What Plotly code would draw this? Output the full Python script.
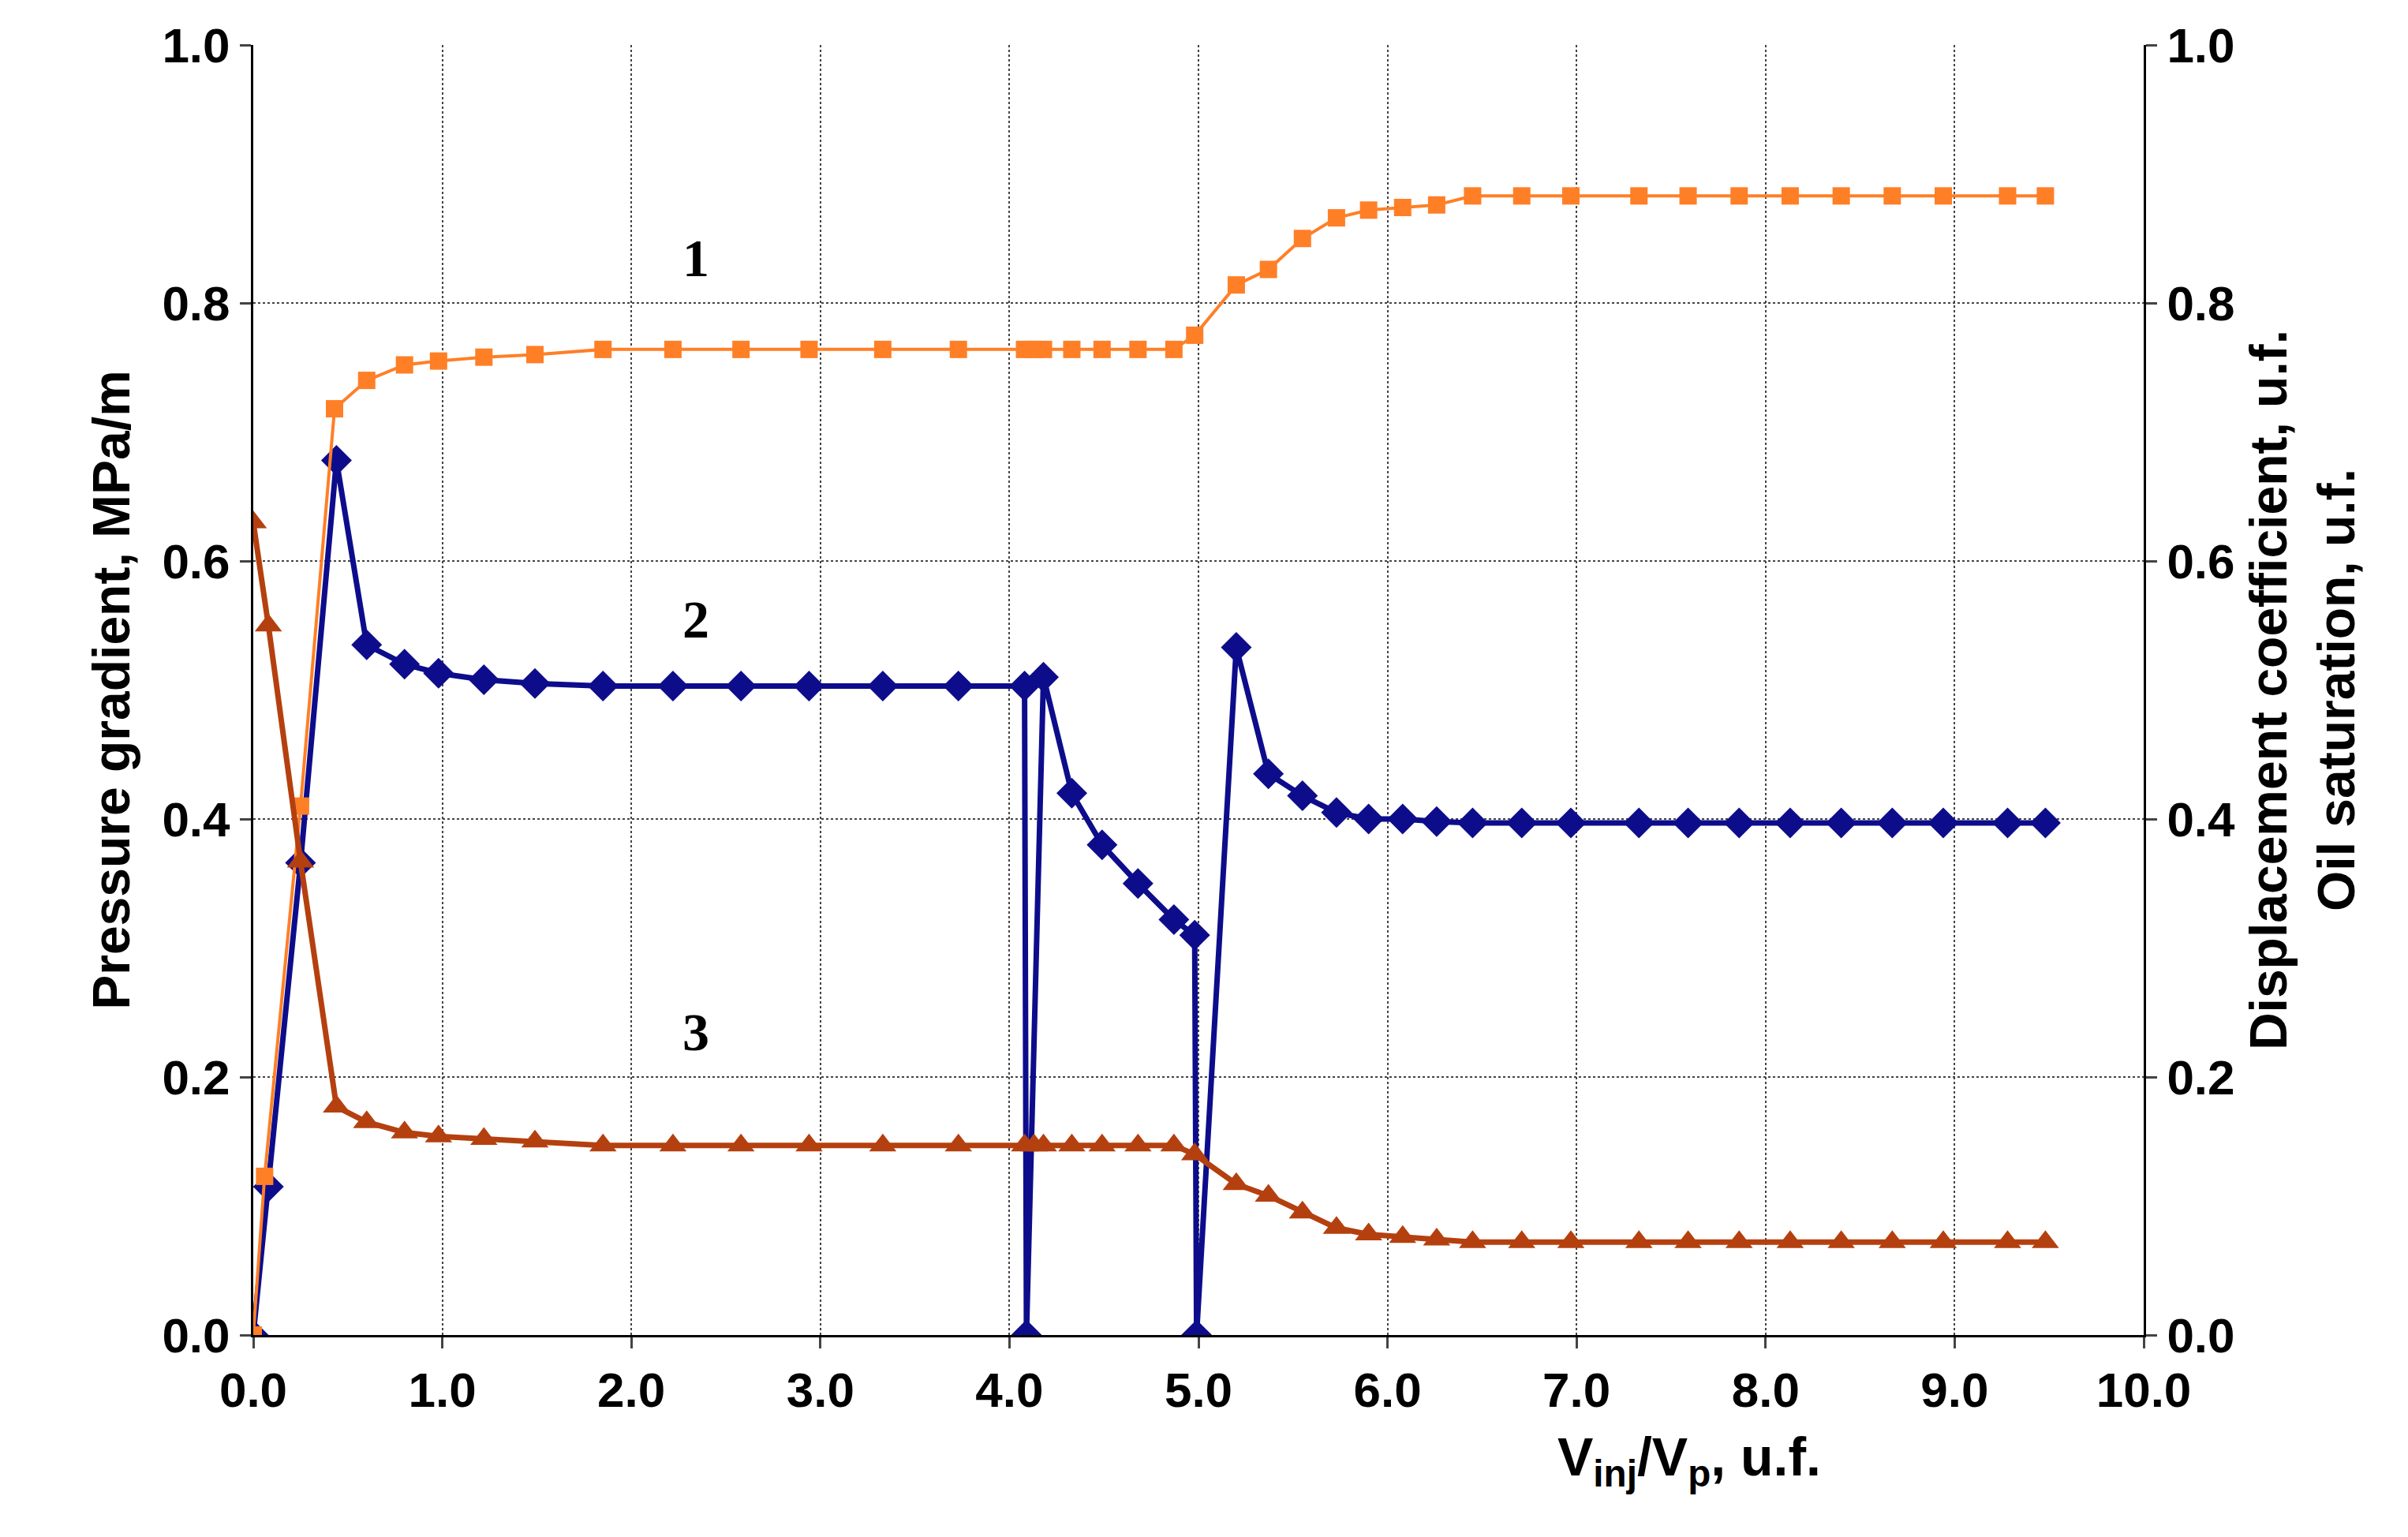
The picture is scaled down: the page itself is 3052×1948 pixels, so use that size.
import plotly.graph_objects as go

# Data
x1 = [0, 0.06, 0.25, 0.43, 0.6, 0.8, 0.98, 1.22, 1.49, 1.85, 2.22, 2.58, 2.94, 3.33, 3.73, 4.08, 4.13, 4.18,
      4.33, 4.49, 4.68, 4.87, 4.98, 5.2, 5.37, 5.55, 5.73, 5.9, 6.08, 6.26, 6.45, 6.71, 6.97, 7.33, 7.59, 7.86,
      8.13, 8.4, 8.67, 8.94, 9.28, 9.48]
disp = [0, 0.123, 0.41, 0.718, 0.74, 0.752, 0.755, 0.758, 0.76, 0.764, 0.764, 0.764, 0.764, 0.764, 0.764, 0.764,
        0.764, 0.764, 0.764, 0.764, 0.764, 0.764, 0.775, 0.814, 0.826, 0.85, 0.866, 0.872, 0.874, 0.876, 0.883,
        0.883, 0.883, 0.883, 0.883, 0.883, 0.883, 0.883, 0.883, 0.883, 0.883, 0.883]

x2 = [0, 0.08, 0.25, 0.44, 0.6, 0.8, 0.98, 1.22, 1.49, 1.85, 2.22, 2.58, 2.94, 3.33, 3.73, 4.08, 4.09, 4.18,
      4.33, 4.49, 4.68, 4.87, 4.98, 4.99, 5.2, 5.37, 5.55, 5.73, 5.9, 6.08, 6.26, 6.45, 6.71, 6.97, 7.33, 7.59,
      7.86, 8.13, 8.4, 8.67, 8.94, 9.28, 9.48]
grad = [0, 0.115, 0.366, 0.678, 0.535, 0.52, 0.513, 0.508, 0.505, 0.503, 0.503, 0.503, 0.503, 0.503, 0.503,
        0.503, 0, 0.51, 0.42, 0.38, 0.35, 0.322, 0.31, 0, 0.533, 0.435, 0.418, 0.405, 0.4, 0.4, 0.398, 0.397,
        0.397, 0.397, 0.397, 0.397, 0.397, 0.397, 0.397, 0.397, 0.397, 0.397, 0.397]

x3 = [0, 0.08, 0.25, 0.44, 0.6, 0.8, 0.98, 1.22, 1.49, 1.85, 2.22, 2.58, 2.94, 3.33, 3.73, 4.08, 4.13, 4.18,
      4.33, 4.49, 4.68, 4.87, 4.98, 5.2, 5.37, 5.55, 5.73, 5.9, 6.08, 6.26, 6.45, 6.71, 6.97, 7.33, 7.59, 7.86,
      8.13, 8.4, 8.67, 8.94, 9.28, 9.48]
oil = [0.63, 0.55, 0.367, 0.177, 0.165, 0.157, 0.154, 0.152, 0.15, 0.147, 0.147, 0.147, 0.147, 0.147, 0.147,
       0.147, 0.147, 0.147, 0.147, 0.147, 0.147, 0.147, 0.14, 0.117, 0.108, 0.095, 0.083, 0.078, 0.076, 0.074,
       0.072, 0.072, 0.072, 0.072, 0.072, 0.072, 0.072, 0.072, 0.072, 0.072, 0.072, 0.072]

ticks = [i / 10 for i in range(0, 11, 2)]
xticks = list(range(0, 11))
ytext = [f"<b>{v:.1f}</b>" for v in ticks]
xtext = [f"<b>{v:.1f}</b>" for v in xticks]

fig = go.Figure()
fig.add_trace(go.Scatter(x=x1, y=disp, yaxis="y2", mode="lines+markers",
                         line=dict(color="#FF7F27", width=4),
                         marker=dict(symbol="square", size=22, color="#FF7F27")))
fig.add_trace(go.Scatter(x=x2, y=grad, mode="lines+markers",
                         line=dict(color="#0D0D8C", width=7),
                         marker=dict(symbol="diamond", size=30, color="#0D0D8C")))
fig.add_trace(go.Scatter(x=x3, y=oil, yaxis="y2", mode="lines+markers",
                         line=dict(color="#B5400F", width=7),
                         marker=dict(symbol="triangle-up", size=30, color="#B5400F")))

grid = dict(showgrid=True, gridcolor="#444444", griddash="dot", gridwidth=2)

fig.update_layout(
    width=3052, height=1948, showlegend=False,
    paper_bgcolor="white", plot_bgcolor="white",
    margin=dict(l=313, r=343, t=49, b=264),
    font=dict(family="Liberation Sans, Arial", size=62, color="black"),
    xaxis=dict(range=[0, 10], tickvals=xticks, ticktext=xtext,
               showline=True, linecolor="black", linewidth=3, ticks="outside", ticklen=14,
               tickwidth=3, zeroline=False, tickfont=dict(size=62), **grid),
    yaxis=dict(range=[0, 1], tickvals=ticks, ticktext=ytext,
               showline=True, linecolor="black", linewidth=3, ticks="outside", ticklen=14,
               tickwidth=3, zeroline=False,
               title=dict(text="<b>Pressure gradient, MPa/m</b>", font=dict(size=66), standoff=20),
               tickfont=dict(size=62), **grid),
    yaxis2=dict(range=[0, 1], overlaying="y", side="right", tickvals=ticks,
                ticktext=ytext, showline=True, linecolor="black",
                linewidth=3, ticks="outside", ticklen=14, tickwidth=3, showgrid=False, zeroline=False,
                title=dict(text="<b>Displacement coefficient, u.f.<br>Oil saturation, u.f.</b>",
                           font=dict(size=66), standoff=20),
                tickfont=dict(size=62)),
)

fig.add_annotation(x=0.83, y=-0.125, xref="paper", yref="paper", showarrow=False,
                   text="<b>V<sub>inj</sub>/V<sub>p</sub>, u.f.</b>", font=dict(size=68))
for label, xv, yv in [("1", 2.34, 0.835), ("2", 2.34, 0.555), ("3", 2.34, 0.235)]:
    fig.add_annotation(x=xv, y=yv, showarrow=False, text=f"<b>{label}</b>",
                       font=dict(family="Liberation Serif", size=68, color="black"))

fig.write_html("out.html")
